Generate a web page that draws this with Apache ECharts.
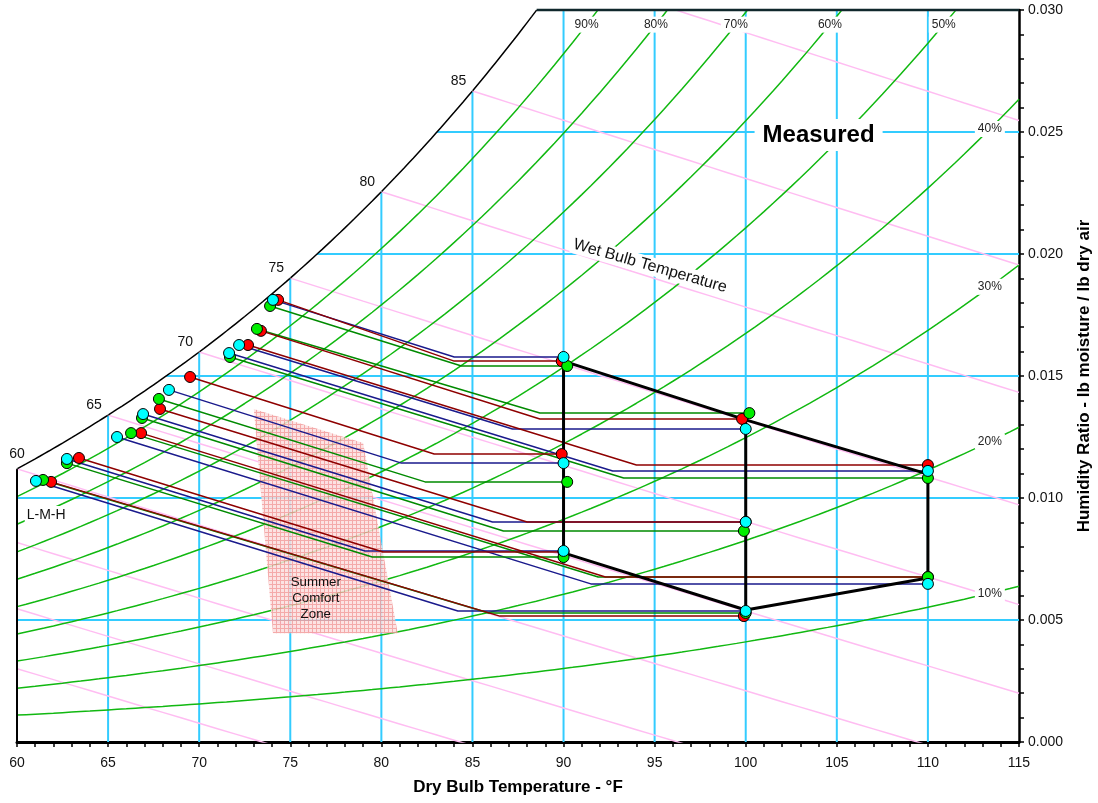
<!DOCTYPE html>
<html>
<head>
<meta charset="utf-8">
<title>Psychrometric chart - Measured</title>
<script src="https://cdn.jsdelivr.net/npm/echarts@6.0.0/dist/echarts.min.js"></script>
<style>
  html, body { margin: 0; padding: 0; background: #fff; }
  #chart { width: 1098px; height: 803px; }
</style>
</head>
<body>
<div id="chart"></div>
<script>
// barometric pressure the chart was drawn for (psia)
const P_ATM = 14.5;

// chart frame
const tMin = 60, tMax = 115, wMax = 0.03;

// reference lines
const rhLevels = [0.1, 0.2, 0.3, 0.4, 0.5, 0.6, 0.7, 0.8, 0.9];
const rhNames = ["10%", "20%", "30%", "40%", "50%", "60%", "70%", "80%", "90%"];
const wetBulbTemps = [45, 50, 55, 60, 65, 70, 75, 80, 85, 90];
const satLabelTemps = [60, 65, 70, 75, 80, 85];
const gridTemps = [65, 70, 75, 80, 85, 90, 95, 100, 105, 110];
const gridHumidity = [0.005, 0.01, 0.015, 0.02, 0.025];

// measured runs: outdoor point (right), end of sensible stage (knee), supply point (left)
// order: 90H, 100H, 110H, 90M, 100M, 90L, 100L, 110L
const lowOutdoorT = [90, 100, 110, 90, 100, 90, 100, 110];
const lowOutdoorW = [0.01578, 0.01283, 0.01111, 0.01143, 0.00902, 0.00783, 0.00537, 0.00648];
const lowKneeT = [84.0, 87.2, 92.7, 81.1, 86.1, 79.1, 84.2, 91.5];
const lowSupplyT = [74.05, 72.19, 71.64, 68.34, 66.92, 62.74, 61.04, 65.49];
const lowSupplyW = [0.01812, 0.01627, 0.01594, 0.01443, 0.01344, 0.01160, 0.01070, 0.01250];

const medOutdoorT = [90.2, 100.2, 110, 90.2, 99.9, 90, 100, 110];
const medOutdoorW = [0.01541, 0.01348, 0.01082, 0.01066, 0.00865, 0.00758, 0.00529, 0.00676];
const medKneeT = [84.4, 88.7, 93.3, 82.4, 86.7, 79.5, 85.9, 91.9];
const medSupplyT = [73.89, 73.17, 71.69, 67.79, 66.86, 62.74, 61.43, 66.26];
const medSupplyW = [0.01787, 0.01693, 0.01578, 0.01406, 0.01328, 0.01143, 0.01074, 0.01266];

const highOutdoorT = [89.9, 99.8, 110, 89.9, 100, 90, 99.9, 110];
const highOutdoorW = [0.01561, 0.01324, 0.01135, 0.01180, 0.00902, 0.00779, 0.00516, 0.00676];
const highKneeT = [84.0, 88.7, 94.0, 82.9, 88.0, 80.1, 86.5, 92.3];
const highSupplyT = [74.33, 73.39, 72.68, 69.50, 67.85, 63.40, 61.87, 66.81];
const highSupplyW = [0.01812, 0.01685, 0.01627, 0.01496, 0.01365, 0.01164, 0.01066, 0.01266];

// outdoor design envelope
const envelopeT = [90, 100, 110, 110, 100, 90, 90];
const envelopeW = [0.01561, 0.01320, 0.01098, 0.00672, 0.00541, 0.00775, 0.01561];
const dividerT = [100, 100];
const dividerW = [0.01320, 0.00541];

// summer comfort zone
const zoneT = [73.0, 79.0, 80.9, 74.05];
const zoneW = [0.01365, 0.01225, 0.00446, 0.00446];

// text notes
const noteText = ["Measured", "Wet Bulb Temperature", "L-M-H", "Summer\nComfort\nZone"];
const noteT = [104.0, 94.75, 61.6, 76.4];
const noteW = [0.02488, 0.01951, 0.00930, 0.00590];

// ---- psychrometric relations (ASHRAE, IP units) ----
function pws(t) {
  const T = t + 459.67;
  return Math.exp(-1.0440397e4 / T - 1.129465e1 - 2.7022355e-2 * T + 1.289036e-5 * T * T
    - 2.4780681e-9 * T * T * T + 6.5459673 * Math.log(T));
}
function wRh(t, rh) { const p = rh * pws(t); return 0.622 * p / (P_ATM - p); }
function wSat(t) { return wRh(t, 1); }
function wWetBulb(t, twb) {
  const ws = wSat(twb);
  return ((1093 - 0.556 * twb) * ws - 0.24 * (t - twb)) / (1093 + 0.444 * t - twb);
}
function tForW(w, rh) {
  let lo = 20, hi = 160;
  for (let i = 0; i < 60; i++) {
    const m = (lo + hi) / 2;
    if (wRh(m, rh) < w) lo = m; else hi = m;
  }
  return (lo + hi) / 2;
}
function steps(a, b, s) {
  const out = [];
  for (let t = a; t < b; t += s) out.push(t);
  out.push(b);
  return out;
}

const FONT = "'Liberation Sans', Arial, sans-serif";
const series = [];

function addLine(data, color, width, z, clip) {
  series.push({
    type: "line", data, z, silent: true, showSymbol: false, symbol: "none",
    clip: clip !== false, lineStyle: { color, width }
  });
}

// cyan grid, clipped by the saturation curve
gridTemps.forEach(t => addLine([[t, 0], [t, Math.min(wSat(t), wMax)]], "#33ccff", 2, 1));
gridHumidity.forEach(w => addLine([[Math.max(tMin, tForW(w, 1)), w], [tMax, w]], "#33ccff", 2, 1));

// wet bulb lines
wetBulbTemps.forEach(twb => {
  addLine(steps(Math.max(tMin, twb), tMax, 1).map(t => [t, wWetBulb(t, twb)]), "#ffbdf2", 1.5, 2);
});

// relative humidity curves
rhLevels.forEach(rh => {
  addLine(steps(tMin, tMax, 0.5).map(t => [t, wRh(t, rh)]), "#11b811", 1.5, 2);
});

// comfort zone
const hatch = document.createElement("canvas");
hatch.width = 4; hatch.height = 4;
const hctx = hatch.getContext("2d");
hctx.fillStyle = "#fcdede"; hctx.fillRect(0, 0, 4, 4);
hctx.fillStyle = "#f39c9c"; hctx.fillRect(0, 0, 4, 1); hctx.fillRect(0, 0, 1, 4);
series.push({
  type: "custom", z: 3, silent: true,
  data: [[zoneT[0], zoneW[0]]],
  renderItem: (params, api) => ({
    type: "polygon",
    shape: { points: zoneT.map((t, i) => api.coord([t, zoneW[i]])) },
    style: { fill: { image: hatch, repeat: "repeat" }, opacity: 0.85 }
  })
});

// saturation curve and chart frame
const tTop = tForW(wMax, 1);
addLine(steps(tMin, tTop, 0.25).map(t => [t, wSat(t)]), "#000", 1.5, 4);
addLine([[tMin, 0], [tMin, wSat(tMin)]], "#000", 2, 4, false);
addLine([[tTop, wMax], [tMax, wMax]], "#10282c", 2.5, 4, false);

// measured runs
const runs = [
  { name: "L", line: "#1a1a8c", mark: "#00ffff", oT: lowOutdoorT, oW: lowOutdoorW, kT: lowKneeT, sT: lowSupplyT, sW: lowSupplyW },
  { name: "M", line: "#008a00", mark: "#00ee00", oT: medOutdoorT, oW: medOutdoorW, kT: medKneeT, sT: medSupplyT, sW: medSupplyW },
  { name: "H", line: "#8e0000", mark: "#ff0000", oT: highOutdoorT, oW: highOutdoorW, kT: highKneeT, sT: highSupplyT, sW: highSupplyW }
];
runs.forEach(r => {
  r.oT.forEach((t, i) => {
    addLine([[r.sT[i], r.sW[i]], [r.kT[i], r.oW[i]], [t, r.oW[i]]], r.line, 1.5, 5);
  });
});

// outdoor design envelope
addLine(envelopeT.map((t, i) => [t, envelopeW[i]]), "#000", 3, 6);
addLine(dividerT.map((t, i) => [t, dividerW[i]]), "#000", 3, 6);

// markers (drawn red, green, cyan from bottom to top)
[runs[2], runs[1], runs[0]].forEach((r, k) => {
  const pts = [];
  r.oT.forEach((t, i) => { pts.push([r.sT[i], r.sW[i]]); pts.push([t, r.oW[i]]); });
  series.push({
    type: "scatter", name: r.name, z: 7 + k, silent: true, data: pts, symbolSize: 11,
    itemStyle: { color: r.mark, borderColor: "#000", borderWidth: 1, opacity: 1 }
  });
});

// labels
const textPlain = { textBorderWidth: 0, textShadowBlur: 0, opacity: 1, fontFamily: FONT };
const labelBase = Object.assign({ show: true, position: "inside", formatter: "{b}" }, textPlain);
function labelSeries(data, label) {
  series.push({
    type: "scatter", z: 20, silent: true, symbolSize: 1,
    itemStyle: { color: "#fff", opacity: 1 },
    data, label: Object.assign({}, labelBase, label)
  });
}
labelSeries(rhLevels.map((rh, i) => {
  const onTop = rh >= 0.5;
  const t = onTop ? tForW(0.0294, rh) : 113.4;
  return { name: rhNames[i], value: [t, onTop ? 0.0294 : wRh(t, rh)] };
}), { fontSize: 12, color: "#222", backgroundColor: "#fff", padding: [2, 3] });

labelSeries(satLabelTemps.map(t => ({
  name: String(t), value: [t, wSat(t)],
  label: { offset: t === tMin ? [0, -15] : [-14, -10] }
})), { fontSize: 14, color: "#111" });

const noteStyles = [
  { fontSize: 24, fontWeight: "bold", color: "#000", backgroundColor: "#fff", padding: [4, 8] },
  { fontSize: 16, rotate: -16, color: "#111", backgroundColor: "#fff", padding: [1, 2] },
  { fontSize: 14, color: "#111", backgroundColor: "#fff", padding: [2, 2] },
  { fontSize: 13.3, lineHeight: 16, align: "center", color: "#111" }
];
labelSeries(noteText.map((s, i) => ({
  name: s, value: [noteT[i], noteW[i]], label: Object.assign({}, textPlain, noteStyles[i])
})), { formatter: p => p.name, color: "#111" });

const chart = echarts.init(document.getElementById("chart"));
chart.setOption({
  animation: false,
  backgroundColor: "#fff",
  grid: { left: 17, right: 79, top: 10, bottom: 61, containLabel: false, outerBoundsMode: "none" },
  xAxis: {
    type: "value", min: tMin, max: tMax, interval: 5,
    name: "Dry Bulb Temperature - °F", nameLocation: "middle", nameGap: 37,
    nameTextStyle: { fontFamily: FONT, fontWeight: "bold", fontSize: 17, color: "#000" },
    axisLine: { show: true, onZero: false, lineStyle: { color: "#000", width: 3 } },
    axisTick: { show: true, length: 5, lineStyle: { color: "#000", width: 1.5 } },
    minorTick: { show: true, splitNumber: 5, length: 5, lineStyle: { color: "#000", width: 1.5 } },
    axisLabel: { fontFamily: FONT, fontSize: 14, color: "#111", margin: 14, showMinLabel: true, showMaxLabel: true },
    splitLine: { show: false }
  },
  yAxis: {
    type: "value", position: "right", min: 0, max: wMax, interval: 0.005,
    name: "Humidity Ratio - lb moisture / lb dry air", nameLocation: "middle", nameGap: 57,
    nameTextStyle: { fontFamily: FONT, fontWeight: "bold", fontSize: 17, color: "#000" },
    axisLine: { show: true, onZero: false, lineStyle: { color: "#000", width: 2.5 } },
    axisTick: { show: true, length: 5, lineStyle: { color: "#000", width: 1.5 } },
    minorTick: { show: true, splitNumber: 5, length: 5, lineStyle: { color: "#000", width: 1.5 } },
    axisLabel: { fontFamily: FONT, fontSize: 14, color: "#111", margin: 9, formatter: v => v.toFixed(3),
      showMinLabel: true, showMaxLabel: true },
    splitLine: { show: false }
  },
  series
});
</script>
</body>
</html>
